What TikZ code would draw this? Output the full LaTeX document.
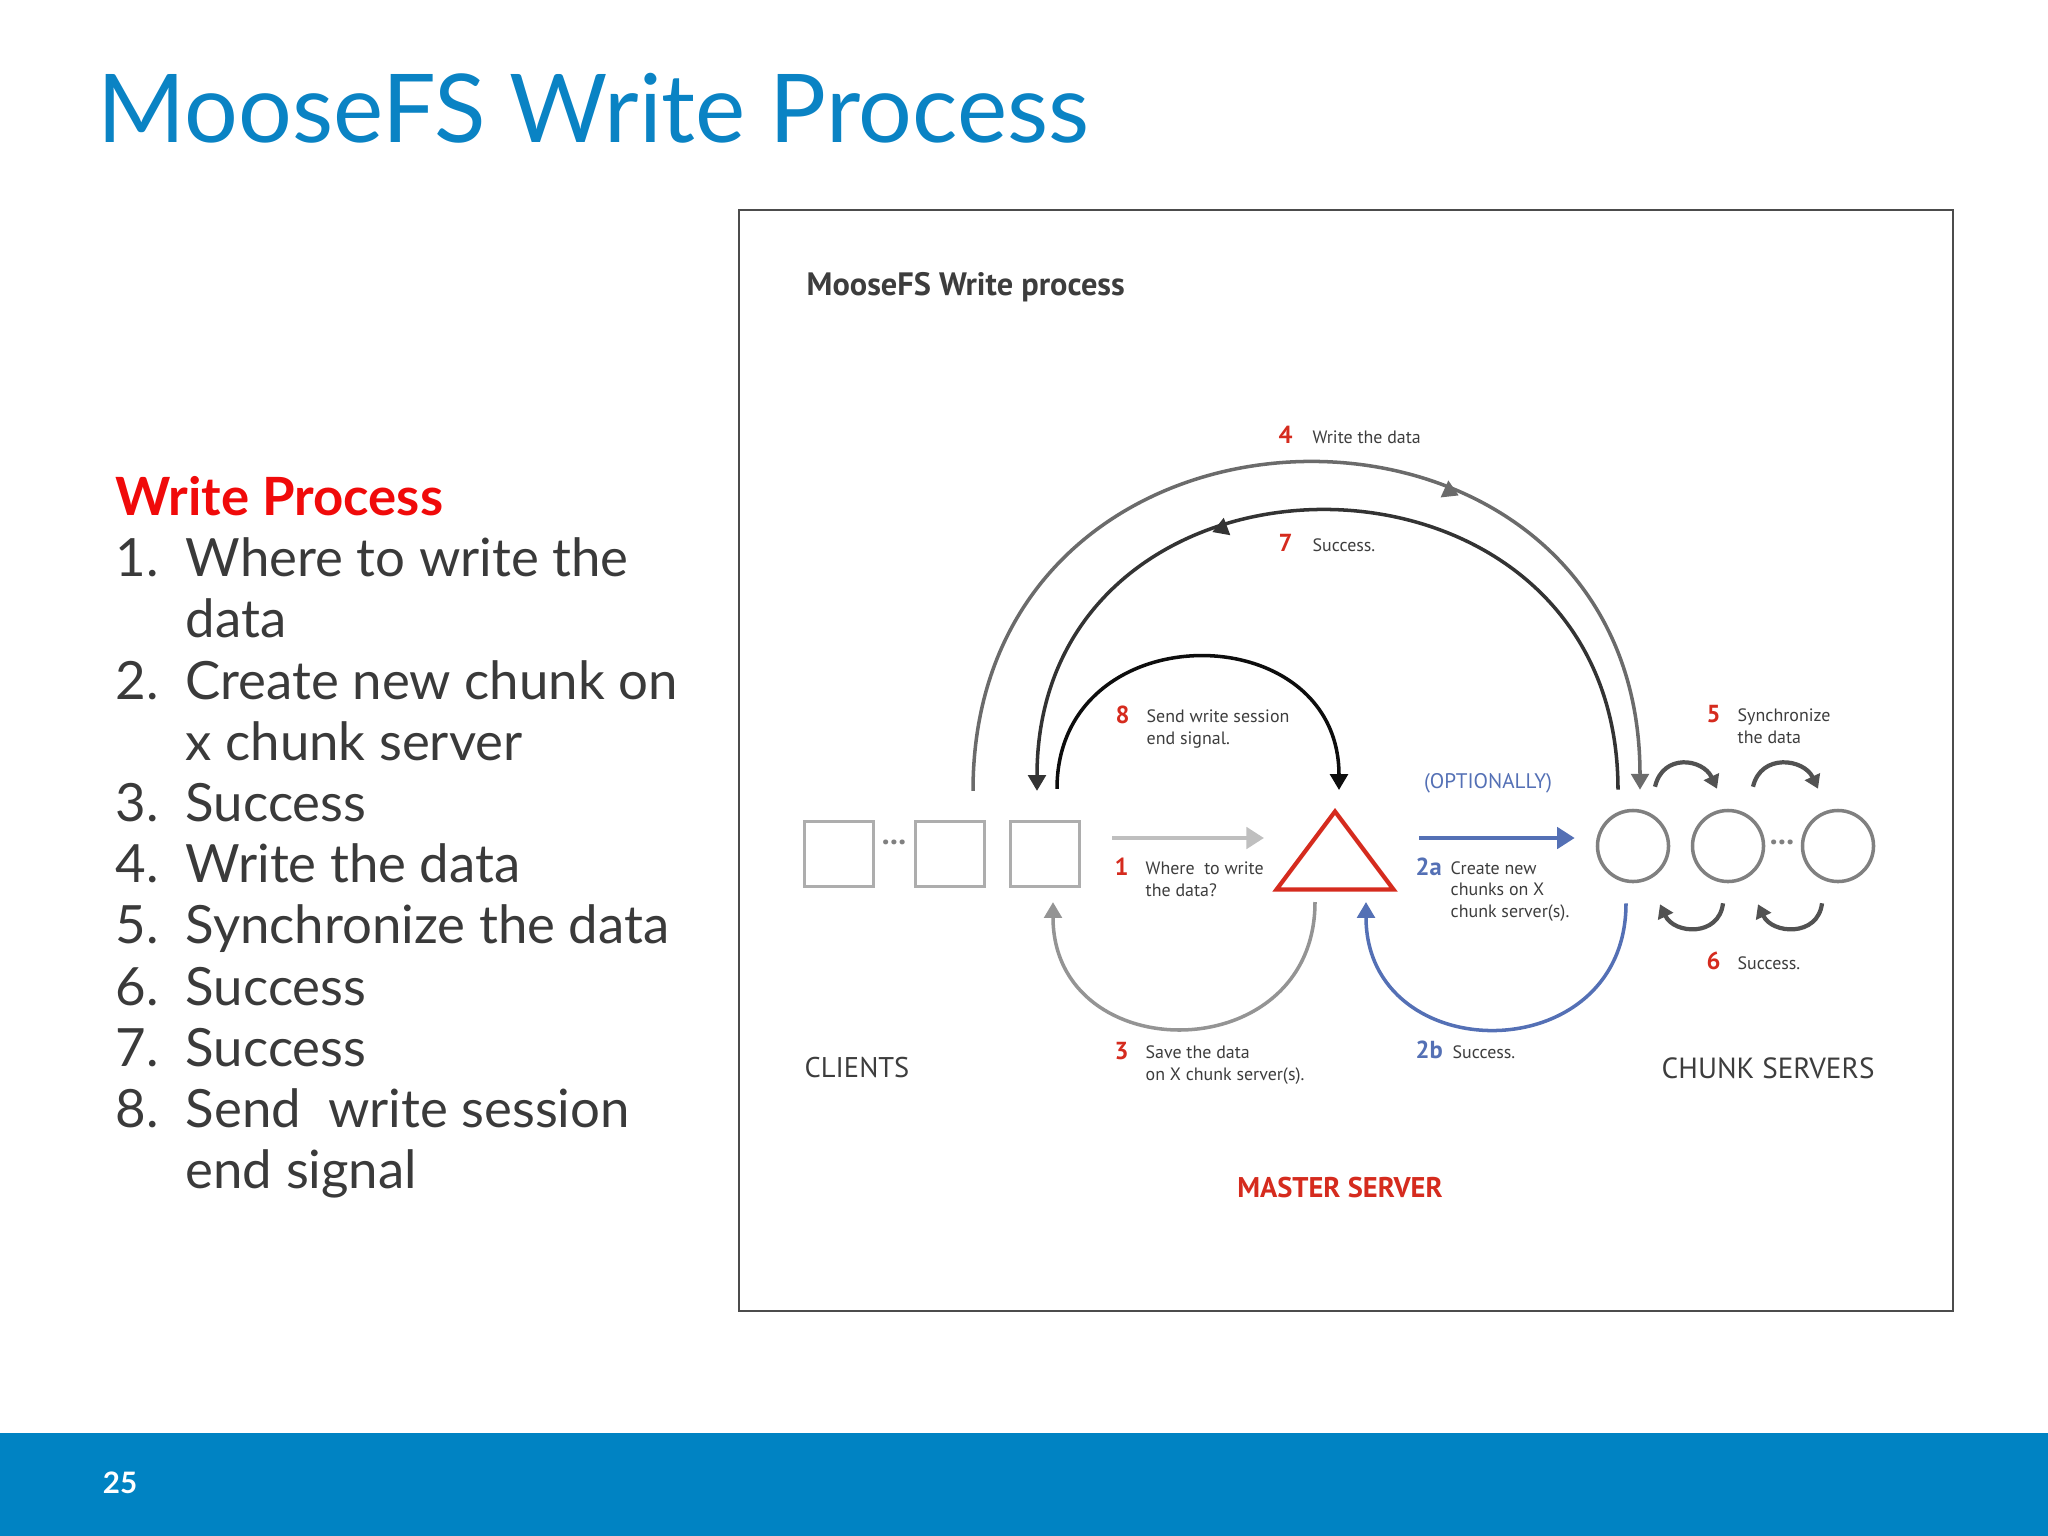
\documentclass[tikz,border=0pt]{standalone}
\usepackage{fontspec}
\setmainfont{Lato}
\newfontfamily\dgmfont{PT Sans}
\usetikzlibrary{arrows.meta,shapes.geometric,decorations.markings,calc}

\definecolor{titleblue}{HTML}{0A83C4}
\definecolor{barblue}{HTML}{0083C3}
\definecolor{listred}{HTML}{F00A0A}
\definecolor{listgray}{HTML}{3A3A3A}
\definecolor{stepred}{HTML}{D52B1E}
\definecolor{stepblue}{HTML}{5470B5}
\definecolor{lblgray}{HTML}{3D3D3D}

\newcommand{\lf}{\dgmfont\fontsize{5.1}{6}\selectfont}
\newcommand{\nf}{\dgmfont\bfseries\fontsize{7}{8}\selectfont}

\begin{document}
\begin{tikzpicture}[x=0.01cm, y=-0.01cm,
    client/.style={draw=black!32, line width=0.9pt, minimum width=0.69cm, minimum height=0.65cm, inner sep=0pt},
    chunk/.style={circle, draw=black!50, line width=1pt, minimum size=0.71cm, inner sep=0pt},
    stepnum/.style={anchor=base west, inner sep=0pt, font=\nf, text=stepred},
    steptxt/.style={anchor=base west, inner sep=0pt, align=left, font=\lf, text=lblgray},
    bigarc/.style={line width=1pt, -{Triangle[length=4.5pt,width=5pt]}},
    midtip/.style={postaction={decorate}, decoration={markings, mark=at position #1 with {\arrow{Triangle[length=4.5pt,width=5pt]}}}},
    sync/.style={draw=black!68, line width=1.2pt, -{Triangle[length=3.8pt,width=4.6pt]}},
    listitem/.style={anchor=base west, inner sep=0pt, font=\fontsize{15}{18}\selectfont, text=listgray},
    dots/.style={inner sep=0pt, font=\dgmfont\bfseries\fontsize{9}{10}\selectfont, text=black!50},
]
    \useasboundingbox (0,0) rectangle (2048,1536);

    % slide title and footer
    \node [anchor=base west, inner sep=0pt, font=\fontsize{27}{32}\selectfont, text=titleblue] (title) at (97,142) {MooseFS Write Process};
    \fill [barblue] (0,1433) rectangle (2048,1536);
    \node [inner sep=0pt, font=\bfseries\fontsize{8.4}{10}\selectfont, text=white] (page) at (120,1483) {25};

    % list on the left
    \node [listitem, font=\bfseries\fontsize{15}{18}\selectfont, text=listred] (head) at (115,515) {Write Process};
    \foreach \n/\y in {1/576, 2/699, 3/821, 4/882, 5/943, 6/1005, 7/1066, 8/1127}
        \node [listitem] (num\n) at (115,\y) {\n.};
    \foreach \t/\y [count=\i] in {Where to write the/576, data/637, Create new chunk on/699, x chunk server/760,
            Success/821, Write the data/882, Synchronize the data/943, Success/1005, Success/1066,
            Send~ write session/1127, end signal/1188}
        \node [listitem] (line\i) at (185,\y) {\t};

    % diagram frame
    \draw [black!70, line width=0.5pt] (739,210) rectangle (1953,1311);
    \node [anchor=west, inner sep=0pt, font=\dgmfont\bfseries\fontsize{9.2}{11}\selectfont, text=lblgray] (dtitle) at (806,287) {MooseFS Write process};

    % clients
    \node [client] (cl1) at (839,854) {};
    \node [client] (cl2) at (950,854) {};
    \node [client] (cl3) at (1045,854) {};
    \node [dots] (cldots) at (894,842) {...};

    % master
    \node [isosceles triangle, isosceles triangle stretches, rotate=90, draw=stepred, line width=1.2pt,
           minimum width=1.17cm, minimum height=0.78cm, inner sep=0pt, anchor=apex] (mst) at (1335,806) {};

    % chunk servers
    \node [chunk] (cs1) at (1633,846) {};
    \node [chunk] (cs2) at (1728,846) {};
    \node [chunk] (cs3) at (1838,846) {};
    \node [dots] (csdots) at (1782,842) {...};

    % group names
    \node [anchor=west, inner sep=0pt, font=\dgmfont\fontsize{8.1}{9}\selectfont, text=lblgray] (clients) at (804,1068) {CLIENTS};
    \node [anchor=west, inner sep=0pt, font=\dgmfont\fontsize{8.3}{9}\selectfont, text=lblgray] (chunks) at (1661,1068) {CHUNK SERVERS};
    \node [inner sep=0pt, font=\dgmfont\bfseries\fontsize{8.1}{9}\selectfont, text=stepred] (master) at (1340,1188) {MASTER SERVER};

    % straight arrows
    \draw [line width=1.4pt, black!25, -{Triangle[length=5pt,width=6pt]}] ($(cl3.east)+(31,-16)$) -- ($(mst.apex)+(-71,32)$);
    \draw [line width=1.4pt, stepblue, -{Triangle[length=5pt,width=6pt]}] ($(mst.apex)+(84,32)$) -- ($(cs1.west)+(-21,-8)$);

    % big arcs
    \draw [bigarc, black!58, midtip=0.65] ($(cl2.north)+(23,-29)$) .. controls +(0,-436) and +(0,-436) .. ($(cs1.north)+(7,-19)$);
    \draw [bigarc, black!80, midtip=0.63] ($(cs1.north)+(-15,-19)$) .. controls +(0,-372) and +(0,-372) .. ($(cl3.north)+(-8,-29)$);
    \draw [bigarc, black!95] ($(cl3.north)+(12,-31)$) .. controls +(0,-176) and +(0,-176) .. ($(mst.apex)+(4,-16)$);
    \draw [bigarc, black!42] ($(mst.apex)+(-20,96)$) .. controls +(0,168) and +(0,168) .. ($(cl3.south)+(8,14)$);
    \draw [bigarc, stepblue] ($(cs1.south)+(-7,20)$) .. controls +(0,168) and +(0,168) .. ($(mst.apex)+(31,96)$);

    % sync and success between chunk servers
    \draw [sync] ($(cs1.north)+(22,-22)$) .. controls +(8,-34) and +(-14,-30) .. ($(cs2.north)+(-11,-20)$);
    \draw [sync] ($(cs2.north)+(25,-22)$) .. controls +(8,-34) and +(-14,-30) .. ($(cs3.north)+(-20,-20)$);
    \draw [sync] ($(cs2.south)+(-5,20)$) .. controls +(-4,34) and +(14,30) .. ($(cs1.south)+(27,21)$);
    \draw [sync] ($(cs3.south)+(-16,20)$) .. controls +(-4,34) and +(14,30) .. ($(cs2.south)+(30,21)$);

    % step labels (multi-line ones sit on their last baseline)
    \node [stepnum] (n4) at (1278,443) {4};
    \node [steptxt] (t4) at (1312,443) {Write the data};
    \node [stepnum] (n7) at (1278,551) {7};
    \node [steptxt] (t7) at (1312,551) {Success.};
    \node [stepnum] (n8) at (1115,723) {8};
    \node [steptxt] (t8) at (1146,744) {Send write session\\end signal.};
    \node [stepnum] (n5) at (1706,722) {5};
    \node [steptxt] (t5) at (1737,743) {Synchronize\\the data};
    \node [inner sep=0pt, font=\dgmfont\fontsize{6}{7}\selectfont, text=stepblue] (opt) at (1488,783) {(OPTIONALLY)};
    \node [stepnum] (n1) at (1114,875) {1};
    \node [steptxt] (t1) at (1145,896) {Where~ to write\\the data?};
    \node [stepnum, text=stepblue] (n2a) at (1415,875) {2a};
    \node [steptxt] (t2a) at (1450,917) {Create new\\chunks on X\\chunk server(s).};
    \node [stepnum] (n6) at (1706,969) {6};
    \node [steptxt] (t6) at (1737,969) {Success.};
    \node [stepnum] (n3) at (1114,1059) {3};
    \node [steptxt] (t3) at (1145,1080) {Save the data\\on X chunk server(s).};
    \node [stepnum, text=stepblue] (n2b) at (1415,1058) {2b};
    \node [steptxt] (t2b) at (1452,1058) {Success.};
\end{tikzpicture}
\end{document}
